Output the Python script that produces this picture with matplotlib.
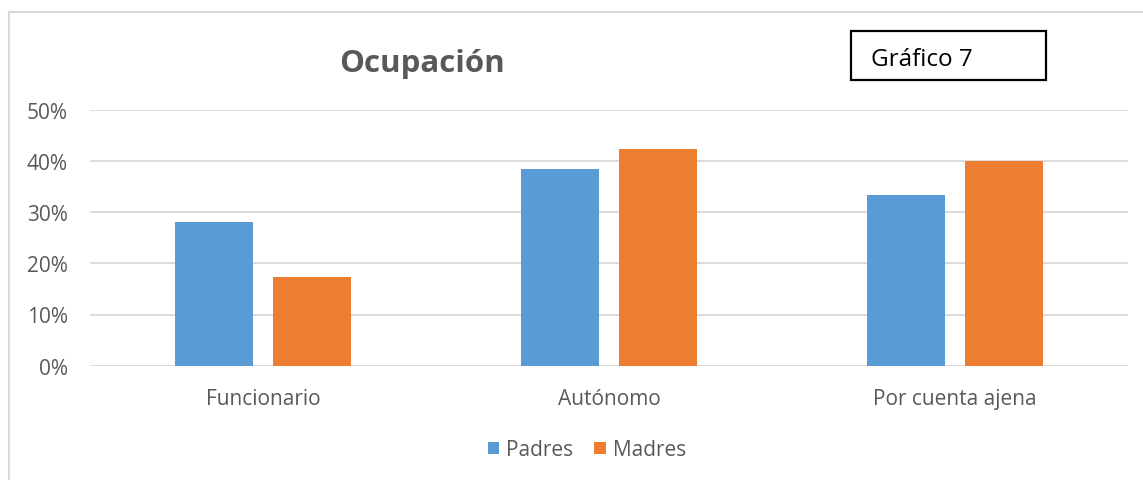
import matplotlib.pyplot as plt
from matplotlib.lines import Line2D
from matplotlib.patches import Rectangle
import numpy as np

plt.rcParams['font.family'] = ['Open Sans', 'DejaVu Sans']

categories = ['Funcionario', 'Autónomo', 'Por cuenta ajena']
padres = [28.1, 38.4, 33.4]
madres = [17.3, 42.3, 40.0]
series_names = ['Padres', 'Madres']
ytick_vals = [0, 10, 20, 30, 40, 50]

BLUE = '#5B9BD5'
ORANGE = '#ED7D31'
GREY_TXT = '#595959'
GRID = '#D9D9D9'

W, H = 1143, 481
fig = plt.figure(figsize=(W / 100, H / 100), dpi=100)

# axes placed in pixel units
left, right, top, bottom = 90, 1128, 110.7, 366.7
ax = fig.add_axes([left / W, 1 - bottom / H, (right - left) / W, (bottom - top) / H])

x = np.arange(len(categories))
bw = 0.225
off = 0.1416
ax.bar(x - off, padres, bw, color=BLUE, label=series_names[0], zorder=3)
ax.bar(x + off, madres, bw, color=ORANGE, label=series_names[1], zorder=3)

ax.set_xlim(-0.5, 2.5)
ax.set_ylim(0, 50)
ax.set_yticks(ytick_vals)
ax.set_yticklabels([f'{v}%' for v in ytick_vals])
ax.set_xticks(x)
ax.set_xticklabels(categories)
ax.grid(axis='y', color=GRID, linewidth=1.3, zorder=0)
for s in ax.spines.values():
    s.set_visible(False)
ax.tick_params(axis='both', length=0, labelsize=15, colors=GREY_TXT)
ax.tick_params(axis='y', pad=16)
ax.tick_params(axis='x', pad=16)

# title
fig.text(422 / W, 1 - 64 / H, 'Ocupación', ha='center', va='center',
         fontsize=22.5, fontweight='bold', color=GREY_TXT)

# "Gráfico 7" box
fig.add_artist(Rectangle((851 / W, 1 - 81 / H), (1046 - 851) / W, (81 - 32) / H,
                         transform=fig.transFigure, fill=False, edgecolor='black', linewidth=1.6))
fig.text(871 / W, 1 - 60 / H, 'Gráfico 7', ha='left', va='center', fontsize=17.5, color='black')

# legend
leg = fig.legend(loc='center', bbox_to_anchor=(587 / W, 1 - 451 / H), ncol=2, frameon=False,
                 fontsize=15, handlelength=0.55, handleheight=0.55, handletextpad=0.35,
                 columnspacing=1.0, labelcolor=GREY_TXT)

# chart border (left & top visible)
fig.add_artist(Line2D([8.5 / W, 8.5 / W], [0, 1 - 12.5 / H], transform=fig.transFigure,
                      color=GRID, linewidth=1.5))
fig.add_artist(Line2D([8.5 / W, 1], [1 - 12.5 / H, 1 - 12.5 / H], transform=fig.transFigure,
                      color=GRID, linewidth=1.5))

fig.savefig('out.png', dpi=100)
